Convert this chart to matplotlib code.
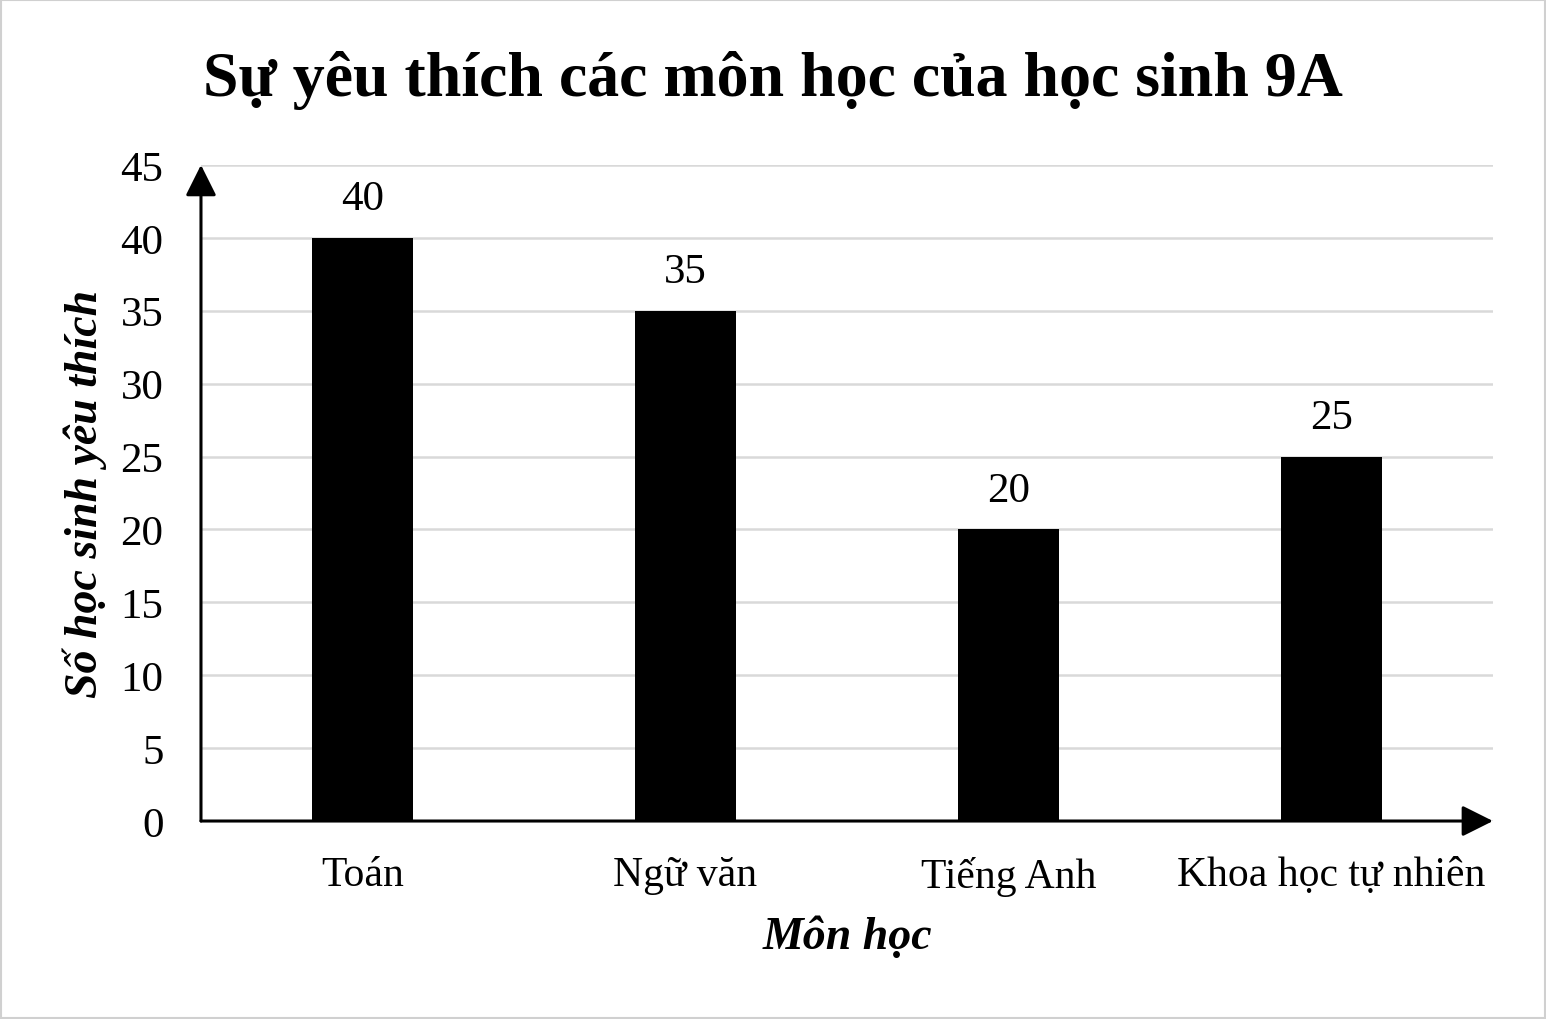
import matplotlib
matplotlib.use("Agg")
import matplotlib.pyplot as plt
from matplotlib.patches import Rectangle

categories = ["Toán", "Ngữ văn", "Tiếng Anh", "Khoa học tự nhiên"]
values = [40, 35, 20, 25]
yticks = [0, 5, 10, 15, 20, 25, 30, 35, 40, 45]

plt.rcParams['font.family'] = ['Liberation Serif', 'DejaVu Serif']

fig = plt.figure(figsize=(15.46, 10.2), dpi=100)
ax = fig.add_axes([0.130, 0.1941, 0.8357, 0.6432])

x = [i + 0.5 for i in range(len(categories))]
ax.bar(x, values, width=0.31, color='black', zorder=3)
for xi, v in zip(x, values):
    ax.annotate(str(v), (xi, v), xytext=(0, 14), textcoords='offset points',
                ha='center', va='bottom', fontsize=31)

ax.set_xlim(0, 4)
ax.set_ylim(0, 45)
ax.set_yticks(yticks)
ax.set_xticks(x)
ax.set_xticklabels(categories, fontsize=30)
ax.tick_params(axis='y', labelsize=31, length=0, pad=27)
ax.tick_params(axis='x', length=0, pad=25)
for s in ax.spines.values():
    s.set_visible(False)
for t in yticks:
    ax.axhline(t, color='#d9d9d9', lw=1.8, zorder=1)

arrow = dict(arrowstyle='-|>,head_length=1.0,head_width=0.5', color='black', lw=2.2,
             mutation_scale=19, shrinkA=0, shrinkB=0)
ax.annotate('', xy=(0, 45), xytext=(0, 0), arrowprops=arrow, annotation_clip=False, zorder=5)
ax.annotate('', xy=(4, 0), xytext=(0, 0), arrowprops=arrow, annotation_clip=False, zorder=5)

ax.set_ylabel("Số học sinh yêu thích", fontsize=33, fontweight='bold', fontstyle='italic', labelpad=10)
ax.set_xlabel("Môn học", fontsize=33, fontweight='bold', fontstyle='italic', labelpad=14)

fig.suptitle("Sự yêu thích các môn học của học sinh 9A", fontsize=46, fontweight='bold', y=0.95)

fig.patches.append(Rectangle((0.0005, 0.0008), 0.999, 0.9984, transform=fig.transFigure,
                             fill=False, edgecolor='#d0d0d0', lw=1.5))

fig.savefig("out.png", dpi=100)
